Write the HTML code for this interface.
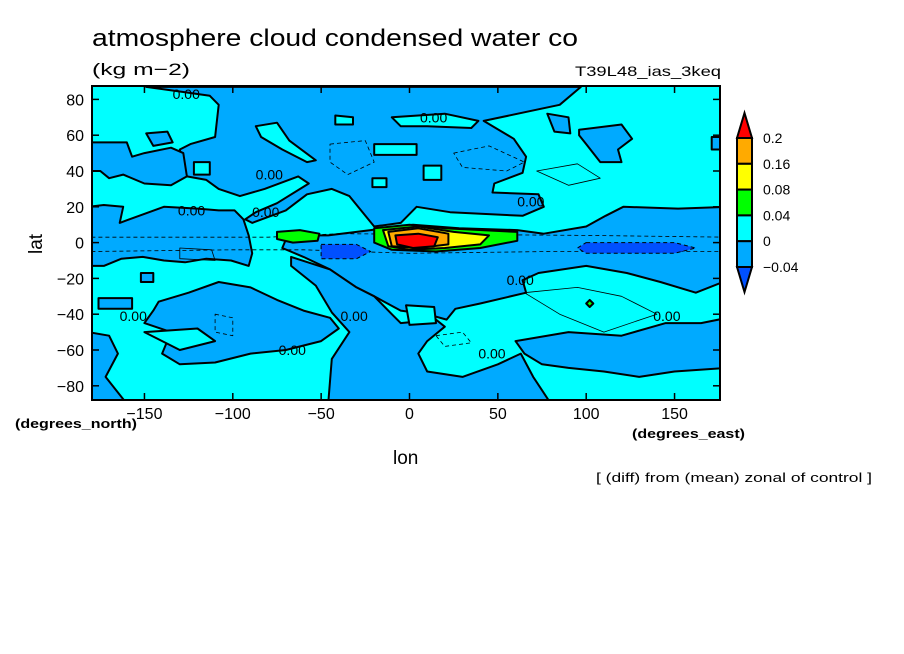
<!DOCTYPE html>
<html><head><meta charset="utf-8"><style>
html,body{margin:0;padding:0;background:#fff}
svg{display:block}
text{font-family:"Liberation Sans",sans-serif;fill:#000}
</style></head><body>
<svg id="chart" width="904" height="654" viewBox="0 0 904 654" xmlns="http://www.w3.org/2000/svg">
<rect width="904" height="654" fill="#fff"/>
<defs><clipPath id="plotclip"><rect x="92" y="86" width="628" height="314"/></clipPath></defs>
<text x="92" y="46" font-size="24" textLength="486" lengthAdjust="spacingAndGlyphs">atmosphere cloud condensed water co</text>
<text x="92" y="75" font-size="17" textLength="98" lengthAdjust="spacingAndGlyphs">(kg m−2)</text>
<text x="575" y="76" font-size="14" textLength="146" lengthAdjust="spacingAndGlyphs">T39L48_ias_3keq</text>
<g id="plot" clip-path="url(#plotclip)"><rect x="92" y="86" width="628" height="314" fill="#00ffff"/></g>
<rect x="92" y="86" width="628" height="314" fill="none" stroke="#000" stroke-width="2"/>
<g id="axes"></g>
<text x="393" y="464" font-size="19">lon</text>
<text x="0" y="0" font-size="19" transform="translate(42,254) rotate(-90)">lat</text>
<text x="15" y="428" font-size="13" font-weight="bold" textLength="122" lengthAdjust="spacingAndGlyphs">(degrees_north)</text>
<text x="632" y="438" font-size="13" font-weight="bold" textLength="113" lengthAdjust="spacingAndGlyphs">(degrees_east)</text>
<text x="596" y="482" font-size="13" textLength="276" lengthAdjust="spacingAndGlyphs">[ (diff) from (mean) zonal of control ]</text>
<g id="cbar"></g>
</svg>
<script>
const xTicks=[-150,-100,-50,0,50,100,150];
const xTickLabels=["−150","−100","−50","0","50","100","150"];
const yTicks=[80,60,40,20,0,-20,-40,-60,-80];
const yTickLabels=["80","60","40","20","0","−20","−40","−60","−80"];
const cbarLevels=["0.2","0.16","0.08","0.04","0","−0.04"];
const cbarColors=["#ff0000","#ffaa00","#ffff00","#00ff00","#00ffff","#00aaff","#0050ff"];
const blueNorthBand=[[-149,87],[97,87],[85,77],[42,68],[59,58],[66,48],[64,39],[48,33],[47,28],[73,27],[76,20],[64,15],[23,17],[4,20],[-5,11],[-20,9],[-34,26],[-44,30],[-58,27],[-70,18],[-89,11],[-93,13],[-87,17],[-75,22],[-57,33],[-63,37],[-82,30],[-96,26],[-108,30],[-115,35],[-126,37],[-128,43],[-130,52],[-124,55],[-110,59],[-108,77],[-113,82],[-127,84]];
const blueLeftMid=[[-180,56],[-160,56],[-157,48],[-150,50],[-135,53],[-128,50],[-126,37],[-135,32],[-150,33],[-162,38],[-170,36],[-175,40],[-180,40]];
const blueLeftEq=[[-182,20],[-173,21],[-162,20],[-164,11],[-153,15],[-139,20],[-120,19],[-108,18],[-99,18],[-94,13],[-91,4],[-89,-6],[-91,-13],[-101,-10],[-115,-9],[-127,-11],[-139,-10],[-151,-8],[-163,-9],[-173,-13],[-182,-13]];
const blueCentralEq=[[-69,4],[-46,4],[-22,7],[2,10],[28,8],[61,7],[76,5],[100,9],[111,15],[121,20],[152,19],[180,20],[180,-21],[162,-28],[142,-22],[123,-17],[100,-13],[73,-17],[64,-21],[66,-28],[40,-34],[26,-37],[21,-43],[10,-40],[-5,-38],[-20,-30],[-30,-25],[-45,-15],[-60,-8],[-72,-3]];
const blueSouthCentral=[[-67,-8],[-45,-15],[-30,-25],[-20,-30],[-10,-40],[-5,-45],[15,-43],[20,-47],[10,-55],[5,-62],[10,-72],[30,-75],[50,-68],[63,-62],[70,-75],[80,-90],[-46,-90],[-44,-65],[-34,-50],[-44,-39],[-53,-24],[-67,-13]];
const blueLeftSouth=[[-142,-33],[-125,-28],[-108,-22],[-90,-25],[-75,-32],[-60,-38],[-45,-42],[-40,-48],[-50,-55],[-70,-60],[-90,-62],[-110,-67],[-130,-68],[-140,-62],[-135,-50],[-150,-45],[-145,-38]];
const blueBottomLeft=[[-182,-50],[-170,-52],[-165,-62],[-172,-75],[-160,-90],[-182,-90]];
const blueRightSouth=[[60,-55],[90,-50],[120,-52],[145,-45],[165,-45],[180,-42],[180,-70],[150,-72],[130,-75],[110,-72],[90,-70],[75,-68],[65,-62]];
const blueTopRightA=[[78,72],[90,70],[91,61],[82,62]];
const blueTopRightB=[[96,63],[120,66],[126,58],[118,52],[120,45],[108,45],[100,55],[96,60]];
const blueTopRightC=[[171,59],[180,59],[180,52],[171,52]];
const blueTopLeftBlob=[[-149,61],[-137,62],[-134,56],[-145,54]];
const blueLeftSouthA=[[-176,-31],[-157,-31],[-157,-37],[-176,-37]];
const blueLeftSouthB=[[-152,-17],[-145,-17],[-145,-22],[-152,-22]];
const cyanA=[[-87,65],[-75,67],[-68,57],[-53,46],[-58,45],[-72,52],[-84,59]];
const cyanB=[[-10,70],[20,72],[39,68],[35,64],[10,65],[-5,65]];
const cyanC=[[-42,71],[-32,70],[-32,66],[-42,66]];
const cyanD=[[-20,55],[4,55],[4,49],[-20,49]];
const cyanE=[[8,43],[18,43],[18,35],[8,35]];
const cyanF=[[-21,36],[-13,36],[-13,31],[-21,31]];
const cyanG=[[-122,45],[-113,45],[-113,38],[-122,38]];
const cyanH=[[-2,-35],[14,-36],[15,-45],[0,-46]];
const cyanI=[[-150,-50],[-120,-48],[-110,-55],[-130,-60]];
const darkBlueA=[[-50,-1],[-30,-1],[-22,-5],[-30,-9],[-50,-9]];
const darkBlueB=[[100,0],[150,0],[162,-3],[150,-6],[100,-6],[95,-3]];
const greenA=[[-75,6],[-62,7],[-51,5],[-52,1],[-66,0],[-75,2]];
const greenB=[[-20,8],[0,10],[20,8],[61,6],[61,1],[40,-3],[15,-5],[-10,-4],[-20,0]];
const greenC=[[102,-32],[104,-34],[102,-36],[100,-34]];
const yellowA=[[-15,7],[5,9],[25,6],[45,4],[40,-1],[20,-3],[0,-4],[-12,-2]];
const orangeA=[[-12,6],[5,8],[22,5],[22,-1],[5,-3],[-10,-2]];
const redA=[[-8,4],[5,5],[16,3],[14,-2],[2,-3],[-7,-1]];
const dashA=[[-45,55],[-25,57],[-20,45],[-35,38],[-45,45]];
const dashB=[[25,50],[45,54],[65,45],[55,40],[30,42]];
const dashC=[[-180,-5],[-100,-4],[-60,-4],[0,-6],[80,-5],[180,-5]];
const dashD=[[-110,-40],[-100,-42],[-100,-52],[-110,-50]];
const dashE=[[15,-52],[30,-50],[35,-56],[20,-58]];
const dashF=[[-180,3],[-80,3],[-40,5],[100,4],[180,3]];
const thinA=[[65,-28],[95,-25],[120,-30],[140,-40],[110,-50],[85,-40]];
const thinB=[[72,40],[95,44],[108,36],[90,32]];
const thinC=[[-130,-3],[-112,-4],[-110,-10],[-130,-9]];
const labelLon=[-125,-122,-80,-78,-155,-30,-65,15,70,147,64,48];
const labelLat=[83,18,17,38,-41,-41,-60,70,23,-41,-21,-62];

const NS="http://www.w3.org/2000/svg";
function X(lon){return 409.5+lon*1.767;}
function Y(lat){return 242.6-lat*1.79;}
const plot=document.getElementById('plot');
function poly(pts,fill,name,sw,dash){
  const p=document.createElementNS(NS,'polygon');
  p.setAttribute('points',pts.map(d=>X(d[0]).toFixed(1)+','+Y(d[1]).toFixed(1)).join(' '));
  p.setAttribute('fill',fill);
  p.setAttribute('stroke','#000');
  p.setAttribute('stroke-width',sw);
  p.setAttribute('stroke-linejoin','round');
  if(dash)p.setAttribute('stroke-dasharray',dash);
  
  
  plot.appendChild(p);
}
function line(pts,name,dash){
  const p=document.createElementNS(NS,'polyline');
  p.setAttribute('points',pts.map(d=>X(d[0]).toFixed(1)+','+Y(d[1]).toFixed(1)).join(' '));
  p.setAttribute('fill','none');
  p.setAttribute('stroke','#000');
  p.setAttribute('stroke-width','0.8');
  if(dash)p.setAttribute('stroke-dasharray',dash);
  
  
  plot.appendChild(p);
}
const B="#00aaff";
[blueNorthBand,blueLeftMid,blueLeftEq,blueCentralEq,blueSouthCentral,blueLeftSouth,blueBottomLeft,blueRightSouth,blueTopRightA,blueTopRightB,blueTopRightC,blueTopLeftBlob,blueLeftSouthA,blueLeftSouthB].forEach(r=>poly(r,B,'negative-region',2));
[cyanA,cyanB,cyanC,cyanD,cyanE,cyanF,cyanG,cyanH,cyanI].forEach(r=>poly(r,"#00ffff",'positive-region',2));
[dashA,dashB,dashD,dashE].forEach(r=>poly(r,"none",'dashed-contour',0.8,'4,3'));
[dashC,dashF].forEach(r=>line(r,'dashed-contour','4,3'));
[thinA,thinB,thinC].forEach(r=>poly(r,"none",'thin-contour',0.8));
[darkBlueA,darkBlueB].forEach(r=>poly(r,"#0050ff",'strong-negative-region',1,'4,3'));
[greenA,greenB,greenC].forEach(r=>poly(r,"#00ff00",'green-region',2));
poly(yellowA,"#ffff00",'yellow-region',2);
poly(orangeA,"#ffaa00",'orange-region',2);
poly(redA,"#ff0000",'red-region',2);
for(let i=0;i<labelLon.length;i++){
  const t=document.createElementNS(NS,'text');
  t.setAttribute('x',X(labelLon[i])-16);
  t.setAttribute('y',Y(labelLat[i])+5);
  t.setAttribute('font-size','14');
  t.textContent='0.00';
  
  
  plot.appendChild(t);
}
const axes=document.getElementById('axes');
function tline(x1,y1,x2,y2,name){
  const l=document.createElementNS(NS,'line');
  l.setAttribute('x1',x1);l.setAttribute('y1',y1);l.setAttribute('x2',x2);l.setAttribute('y2',y2);
  l.setAttribute('stroke','#000');l.setAttribute('stroke-width','1.5');
  
  
  axes.appendChild(l);
}
xTicks.forEach((v,i)=>{
  const x=X(v);
  tline(x,400,x,393,'x-tick');
  tline(x,86,x,93,'x-tick');
  const t=document.createElementNS(NS,'text');
  t.setAttribute('x',x);t.setAttribute('y',419);t.setAttribute('font-size','16');
  t.setAttribute('text-anchor','middle');
  t.textContent=xTickLabels[i];
  
  
  axes.appendChild(t);
});
yTicks.forEach((v,i)=>{
  const y=Y(v);
  tline(92,y,99,y,'y-tick');
  tline(720,y,713,y,'y-tick');
  const t=document.createElementNS(NS,'text');
  t.setAttribute('x',84);t.setAttribute('y',y+6);t.setAttribute('font-size','16');
  t.setAttribute('text-anchor','end');
  t.textContent=yTickLabels[i];
  
  
  axes.appendChild(t);
});
const cb=document.getElementById('cbar');
const cbx=737,cbw=15,top0=138,step=25.8;
function cbShape(tag,attrs,name){
  const e=document.createElementNS(NS,tag);
  for(const k in attrs)e.setAttribute(k,attrs[k]);
  e.setAttribute('stroke','#000');e.setAttribute('stroke-width','2');
  
  
  cb.appendChild(e);
}
cbShape('polygon',{points:`${cbx},${top0} ${cbx+cbw/2},${top0-25} ${cbx+cbw},${top0}`,fill:cbarColors[0]},'colorbar-top-arrow');
for(let i=1;i<cbarColors.length-1;i++){
  cbShape('rect',{x:cbx,y:top0+(i-1)*step,width:cbw,height:step,fill:cbarColors[i]},'colorbar-box');
}
const bot=top0+(cbarColors.length-2)*step;
cbShape('polygon',{points:`${cbx},${bot} ${cbx+cbw/2},${bot+25} ${cbx+cbw},${bot}`,fill:cbarColors[cbarColors.length-1]},'colorbar-bottom-arrow');
cbarLevels.forEach((s,i)=>{
  const t=document.createElementNS(NS,'text');
  t.setAttribute('x',763);t.setAttribute('y',top0+i*step+5);t.setAttribute('font-size','14');
  t.textContent=s;
  
  
  cb.appendChild(t);
});
</script>
</body></html>
